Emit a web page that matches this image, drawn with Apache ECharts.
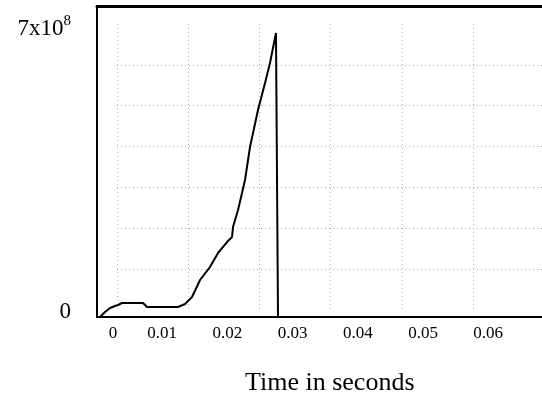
<!DOCTYPE html>
<html>
<head>
<meta charset="utf-8">
<script src="https://cdn.jsdelivr.net/npm/echarts@6/dist/echarts.min.js"></script>
<style>
  html, body { margin: 0; padding: 0; background: #fff; }
  #main { width: 542px; height: 400px; }
</style>
</head>
<body>
<div id="main"></div>
<script>
  // time (s) and signal values
  var time = [0.00046, 0.00123, 0.00199, 0.00276, 0.00322, 0.00383, 0.00706, 0.00767,
              0.01242, 0.01350, 0.01457, 0.01580, 0.01733, 0.01856, 0.01994, 0.02071,
              0.02086, 0.02163, 0.02224, 0.02270, 0.02347, 0.02469, 0.02577, 0.02653,
              0.02745, 0.02761, 0.02776];
  var signal = [-0.171e8, -0.049e8, 0.049e8, 0.098e8, 0.122e8, 0.171e8, 0.171e8, 0.073e8,
                0.073e8, 0.147e8, 0.318e8, 0.734e8, 1.052e8, 1.395e8, 1.664e8, 1.787e8,
                2.031e8, 2.447e8, 2.863e8, 3.182e8, 3.989e8, 4.895e8, 5.556e8, 6.045e8,
                6.779e8, 6.804e8, -0.171e8];
  // x tick labels
  var xTicks = [0, 0.01, 0.02, 0.03, 0.04, 0.05, 0.06];
  // y tick labels shown
  var yTicks = [0, 7e8];

  var serif = 'Liberation Serif';
  var pts = time.map(function (t, i) { return [t, signal[i]]; });

  var myChart = echarts.init(document.getElementById('main'));
  var option = {
    animation: false,
    backgroundColor: '#fff',
    title: {
      text: 'Time in seconds',
      left: 245,
      top: 370,
      padding: 0,
      textStyle: { fontFamily: serif, fontSize: 26, fontWeight: 'normal', color: '#000' }
    },
    grid: [
      // data area
      { left: 97, right: 0, top: 6, bottom: 83, outerBoundsMode: 'none' },
      // dotted grid lines
      { left: 117, right: 0, top: 24, bottom: 90, outerBoundsMode: 'none' }
    ],
    xAxis: [
      {
        gridIndex: 0,
        type: 'value',
        min: 0,
        max: 0.06825,
        interval: 0.01,
        axisLine: { show: true, onZero: false, lineStyle: { color: '#000', width: 2 } },
        axisTick: { show: false },
        splitLine: { show: false },
        axisLabel: {
          margin: 8,
          fontFamily: serif,
          fontSize: 17,
          color: '#000',
          formatter: function (v) {
            for (var i = 0; i < xTicks.length; i++) {
              if (Math.abs(v - xTicks[i]) < 1e-9) {
                return xTicks[i] === 0 ? '{z|0}' : xTicks[i].toFixed(2);
              }
            }
            return '';
          },
          rich: { z: { fontFamily: serif, fontSize: 17, color: '#000', padding: [0, 0, 0, 32] } }
        }
      },
      {
        gridIndex: 0,
        type: 'value',
        position: 'top',
        min: 0,
        max: 0.06825,
        axisLine: { show: true, onZero: false, lineStyle: { color: '#000', width: 3 } },
        axisTick: { show: false },
        axisLabel: { show: false },
        splitLine: { show: false }
      },
      {
        gridIndex: 1,
        type: 'value',
        min: 0,
        max: 5.97,
        interval: 1,
        axisLine: { show: false },
        axisTick: { show: false },
        axisLabel: { show: false },
        splitLine: { show: true, showMinLine: true, lineStyle: { color: '#b4b4b4', type: [1, 3], width: 1 } }
      }
    ],
    yAxis: [
      {
        gridIndex: 0,
        type: 'value',
        min: -1.713e7,
        max: 7.44e8,
        axisLine: { show: true, onZero: false, lineStyle: { color: '#000', width: 2 } },
        axisTick: { show: false },
        axisLabel: { show: false },
        splitLine: { show: false }
      },
      {
        gridIndex: 1,
        type: 'value',
        min: 0,
        max: 7e8,
        interval: 1e8,
        axisLine: { show: false },
        axisTick: { show: false },
        splitLine: {
          show: true, showMinLine: false, showMaxLine: false,
          lineStyle: { color: '#b4b4b4', type: [1, 3], width: 1 }
        },
        axisLabel: {
          margin: 46,
          color: '#000',
          formatter: function (v) {
            if (v === yTicks[0]) return '{z|0}';
            if (v === yTicks[1]) return '{b|7x10}{s|8}';
            return '';
          },
          rich: {
            z: { fontFamily: serif, fontSize: 23, color: '#000', padding: [3, 0, 0, 0] },
            b: { fontFamily: serif, fontSize: 23, color: '#000', verticalAlign: 'bottom', padding: [10, 0, 0, 0] },
            s: { fontFamily: serif, fontSize: 15, color: '#000', verticalAlign: 'bottom', padding: [0, 0, 12, 0] }
          }
        }
      }
    ],
    series: [
      {
        type: 'line',
        xAxisIndex: 0,
        yAxisIndex: 0,
        data: pts,
        symbol: 'none',
        lineStyle: { color: '#000', width: 2 },
        z: 5
      }
    ]
  };
  myChart.setOption(option);
</script>
</body>
</html>
